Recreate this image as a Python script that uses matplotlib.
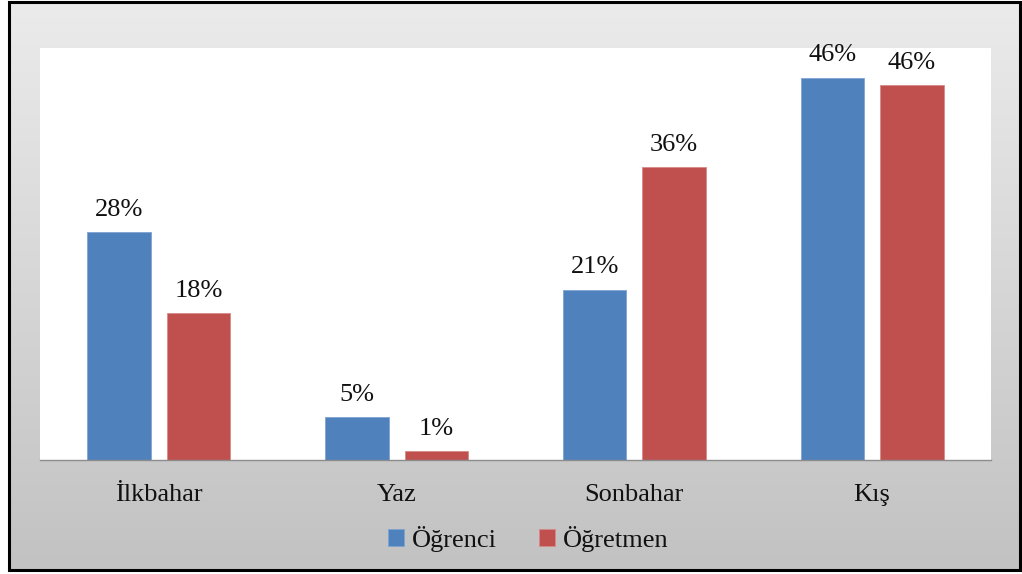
import numpy as np
import matplotlib
matplotlib.use("Agg")
import matplotlib.pyplot as plt
from matplotlib.patches import Rectangle

# Veriler
mevsimler = ["İlkbahar", "Yaz", "Sonbahar", "Kış"]
ogrenci = [28.0, 5.2, 20.9, 47.0]
ogretmen = [18.0, 1.0, 36.0, 46.1]
ogrenci_etiket = ["28%", "5%", "21%", "46%"]
ogretmen_etiket = ["18%", "1%", "36%", "46%"]

W, H = 1022, 574
plt.rcParams['font.family'] = ['Liberation Serif', 'DejaVu Serif']

fig = plt.figure(figsize=(W / 100, H / 100), dpi=100)
fig.patch.set_facecolor('white')

# gri degrade arka plan
bg = fig.add_axes([10 / W, 1 - 569 / H, (1019 - 10) / W, (569 - 3) / H])
grad = np.linspace(0, 1, 256).reshape(-1, 1)
bg.imshow(grad, aspect='auto', cmap=matplotlib.colors.LinearSegmentedColormap.from_list(
    'g', ['#ebebeb', '#c2c2c2']), extent=[0, 1, 0, 1], origin='upper')
bg.axis('off')
fig.patches.append(Rectangle((9 / W, 1 - 570 / H), (1020 - 9) / W, (570 - 2) / H,
                             transform=fig.transFigure, fill=False,
                             edgecolor='black', linewidth=2.2, zorder=10))

ax = fig.add_axes([40 / W, 1 - 459.5 / H, (991 - 40) / W, (459.5 - 48) / H])
ax.set_facecolor('white')

x = np.arange(len(mevsimler))
w = 0.267
off = 0.167
b1 = ax.bar(x - off, ogrenci, w, color='#4f81bd', edgecolor='#7fa3d3', linewidth=0.6, label='Öğrenci')
b2 = ax.bar(x + off, ogretmen, w, color='#c0504d', edgecolor='#d88a88', linewidth=0.6, label='Öğretmen')

for bars, etiket in ((b1, ogrenci_etiket), (b2, ogretmen_etiket)):
    for r, t in zip(bars, etiket):
        ax.annotate(t, (r.get_x() + r.get_width() / 2, r.get_height()),
                    xytext=(0, 12), textcoords='offset points',
                    ha='center', va='baseline', fontsize=19, color='#111111')

ax.set_xlim(-0.5, 3.5)
ax.set_ylim(0, 50.7)
ax.set_yticks([])
ax.set_xticks(x, mevsimler)
ax.tick_params(axis='x', length=0, pad=29.9, labelsize=19, labelcolor='#111111')
for lab in ax.get_xticklabels():
    lab.set_va('baseline')
for s in ['top', 'left', 'right']:
    ax.spines[s].set_visible(False)
ax.spines['bottom'].set_color('#8c8c8c')
ax.spines['bottom'].set_linewidth(1)

fig.legend(handles=[b1, b2], labels=['Öğrenci', 'Öğretmen'], loc='center',
           bbox_to_anchor=(528 / W, 0.061), ncol=2, frameon=False, fontsize=19,
           handlelength=0.6, handleheight=0.6, handletextpad=0.3, columnspacing=1.6,
           labelcolor='#111111')

fig.savefig('out.png', dpi=100)
